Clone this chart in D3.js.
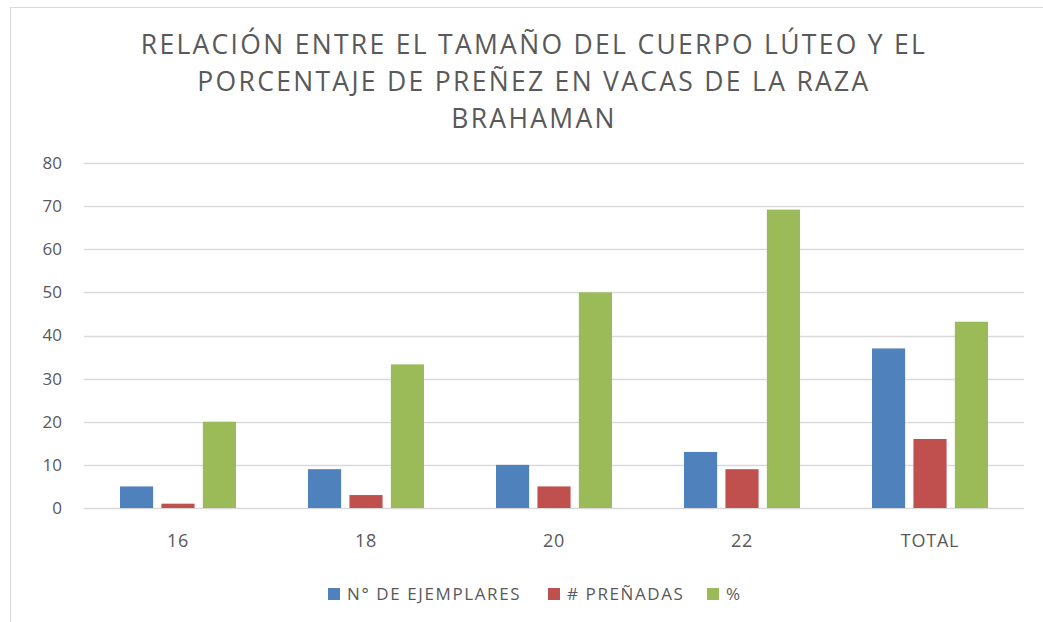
<!DOCTYPE html>
<html>
<head>
<meta charset="utf-8">
<script src="https://cdn.jsdelivr.net/npm/d3@7"></script>
<style>
  body { margin: 0; background: #fff; }
  text { font-family: "Open Sans", "Liberation Sans", sans-serif; fill: #595959; }
</style>
</head>
<body>
<div id="chart"></div>
<script>
// data
var categories = ["16", "18", "20", "22", "TOTAL"];
var seriesNames = ["N° DE EJEMPLARES", "# PREÑADAS", "%"];
var ejemplares = [5, 9, 10, 13, 37];
var prenadas = [1, 3, 5, 9, 16];
var porcentaje = [20, 33.3, 50, 69.2, 43.2];
var yTicks = [0, 10, 20, 30, 40, 50, 60, 70, 80];
var titleLines = ["RELACIÓN ENTRE EL TAMAÑO DEL CUERPO LÚTEO Y EL",
                  "PORCENTAJE DE PREÑEZ EN VACAS DE LA RAZA",
                  "BRAHAMAN"];

var colors = ["#4F81BD", "#C0504D", "#9BBB59"];
var seriesValues = [ejemplares, prenadas, porcentaje];

var W = 1043, H = 622;
var marg_t = 163, marg_l = 84, marg_r = 19, marg_b = 114;
var width = W - marg_l - marg_r,
    height = H - marg_t - marg_b;

var root = d3.select("#chart").append("svg")
    .attr("width", W).attr("height", H);

// chart frame
root.append("rect")
    .attr("x", 10.5).attr("y", 7.5)
    .attr("width", 1040).attr("height", 620)
    .attr("fill", "none")
    .attr("stroke", "#D9D9D9");

// title
root.append("g").selectAll("text")
    .data(titleLines)
    .join("text")
    .attr("x", 534)
    .attr("y", function(d, i) { return 54 + i * 37; })
    .attr("text-anchor", "middle")
    .style("font-size", "26.5px")
    .style("letter-spacing", "2.3px")
    .text(function(d) { return d; });

var svg = root.append("g")
    .attr("transform", "translate(" + marg_l + "," + marg_t + ")");

var x = d3.scaleBand().domain(categories).range([0, width]);
var groupW = 116;
var xs = d3.scaleBand().domain(d3.range(3)).range([0, groupW]).paddingInner(0.2);
var y = d3.scaleLinear().domain([0, 80]).range([height, 0]);

// gridlines
svg.append("g").selectAll("line")
    .data(yTicks)
    .join("line")
    .attr("x1", 0).attr("x2", width)
    .attr("y1", function(d) { return Math.round(y(d)) + 0.5; })
    .attr("y2", function(d) { return Math.round(y(d)) + 0.5; })
    .attr("stroke", "#D9D9D9")
    .attr("stroke-width", 1.3);

// y axis labels
var yAxis = svg.append("g")
    .attr("transform", "translate(-22,0)")
    .call(d3.axisLeft(y).tickValues(yTicks).tickSize(0).tickPadding(0));
yAxis.select(".domain").remove();
yAxis.selectAll("text").style("font-size", "17px").attr("fill", "#595959");

// x axis labels
var xAxis = svg.append("g")
    .attr("transform", "translate(0," + (height + 26) + ")")
    .call(d3.axisBottom(x).tickSize(0).tickPadding(0));
xAxis.select(".domain").remove();
xAxis.selectAll("text")
    .style("font-size", "18px")
    .style("letter-spacing", "0.8px")
    .attr("fill", "#595959");

// bars
seriesValues.forEach(function(vals, s) {
    svg.append("g").selectAll("rect")
        .data(vals)
        .join("rect")
        .attr("x", function(d, i) { return x(categories[i]) + x.bandwidth() / 2 - groupW / 2 + xs(s); })
        .attr("width", xs.bandwidth())
        .attr("y", function(d) { return y(d); })
        .attr("height", function(d) { return y(0) - y(d); })
        .attr("fill", colors[s]);
});

// legend
var legendX = [328, 548, 707];
var legend = root.append("g").selectAll("g")
    .data(seriesNames)
    .join("g")
    .attr("transform", function(d, i) { return "translate(" + legendX[i] + ",588)"; });
legend.append("rect")
    .attr("width", 12).attr("height", 12)
    .attr("fill", function(d, i) { return colors[i]; });
legend.append("text")
    .attr("x", 19).attr("y", 12)
    .style("font-size", "17px")
    .style("letter-spacing", "1.6px")
    .text(function(d) { return d; });
</script>
</body>
</html>
